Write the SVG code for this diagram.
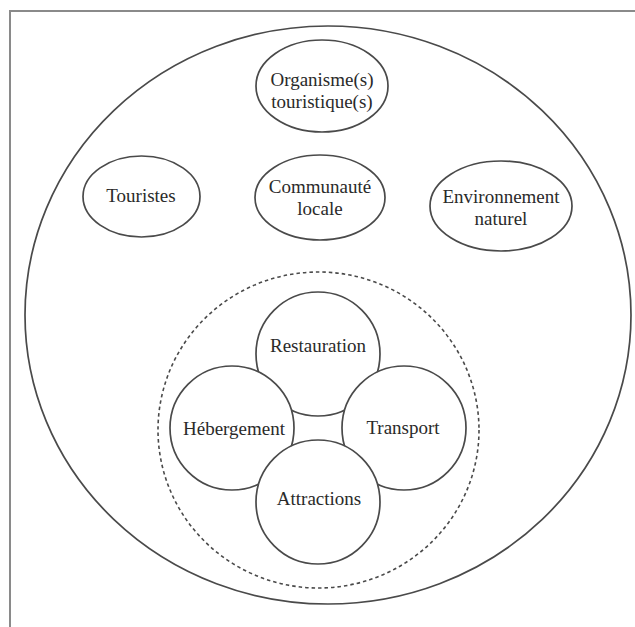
<svg xmlns="http://www.w3.org/2000/svg" width="635" height="627" viewBox="0 0 635 627">
<style>
.n{fill:#fff;stroke:#4a4a4a;stroke-width:1.7}
.o{fill:none;stroke:#4a4a4a;stroke-width:1.7}
.d{fill:none;stroke:#4a4a4a;stroke-width:1.6;stroke-dasharray:3.5 3}
text{font-family:"Liberation Serif","Times New Roman",serif;font-size:19px;fill:#2a2a2a;text-anchor:middle}
</style>
<rect width="635" height="627" fill="#fff"/>
<path d="M10 627 V11 H635" fill="none" stroke="#8a8a8a" stroke-width="2"/>
<g id="systeme"><ellipse class="o" cx="328" cy="315" rx="303" ry="289"/></g>
<g id="organismes"><ellipse class="n" cx="322" cy="86" rx="66" ry="46"/><text x="322" y="86">Organisme(s)</text><text x="322" y="108">touristique(s)</text></g>
<g id="touristes"><ellipse class="n" cx="141.5" cy="196.5" rx="58.5" ry="40.5"/><text x="141" y="202">Touristes</text></g>
<g id="communaute"><ellipse class="n" cx="320" cy="197.5" rx="65" ry="42.5"/><text x="320" y="193">Communauté</text><text x="320" y="215">locale</text></g>
<g id="environnement"><ellipse class="n" cx="501" cy="206" rx="71" ry="45"/><text x="501" y="203">Environnement</text><text x="501" y="225">naturel</text></g>
<g id="offre"><ellipse class="d" cx="318.5" cy="430" rx="160.5" ry="158"/></g>
<g id="restauration"><circle class="n" cx="318" cy="354" r="62"/><text x="318" y="352">Restauration</text></g>
<g id="hebergement"><circle class="n" cx="232" cy="428" r="62"/><text x="234" y="435">Hébergement</text></g>
<g id="transport"><circle class="n" cx="404" cy="428" r="62"/><text x="403" y="434">Transport</text></g>
<g id="attractions"><circle class="n" cx="318" cy="502" r="62"/><text x="319" y="505">Attractions</text></g>
<g id="connectors"/>
</svg>
